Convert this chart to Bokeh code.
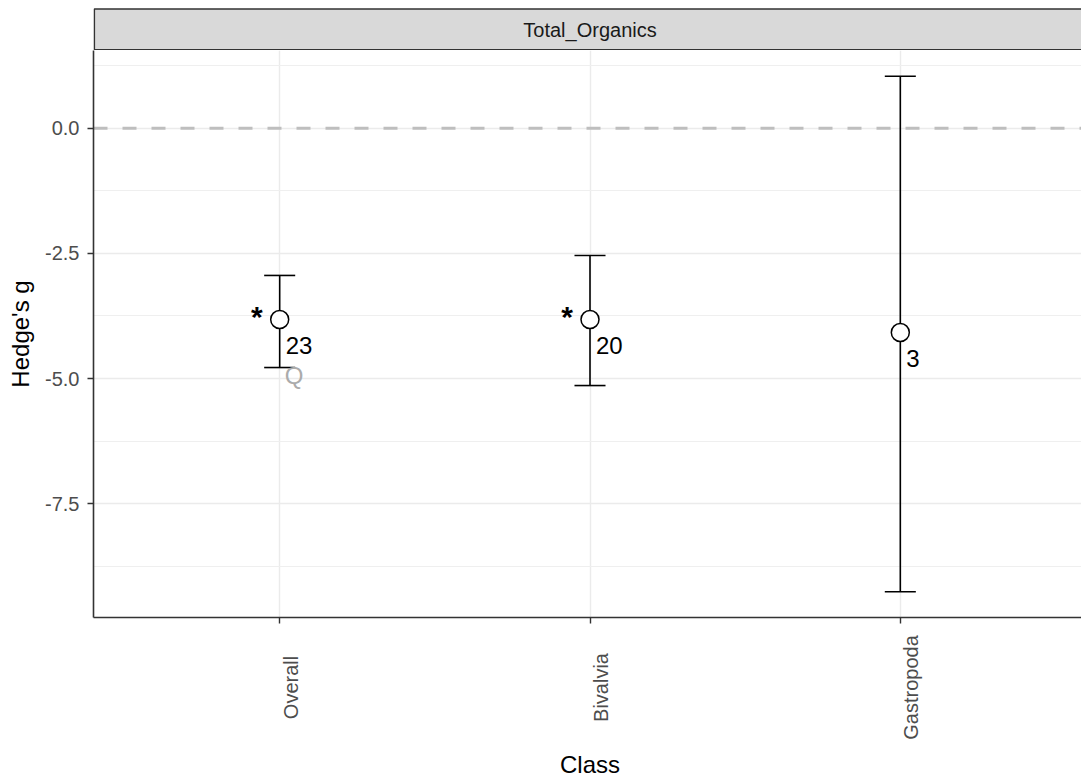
import math
import numpy as np
from bokeh.plotting import figure
from bokeh.layouts import column
from bokeh.models import Span, Range1d, FixedTicker
from bokeh.core.properties import value
from bokeh.embed import file_html
from bokeh.resources import INLINE

# ---- data -------------------------------------------------------------
facet_label = "Total_Organics"
classes = ["Overall", "Bivalvia", "Gastropoda"]
hedges_g = [-3.82, -3.82, -4.08]
ci_lower = [-4.78, -5.14, -9.26]
ci_upper = [-2.94, -2.54, 1.04]
n_studies = ["23", "20", "3"]
signif = ["*", "*", ""]
q_flag = ["Q", "", ""]
ref_line = 0.0
y_ticks = [0.0, -2.5, -5.0, -7.5]
y_tick_labels = ["0.0", "-2.5", "-5.0", "-7.5"]
y_minor = [1.25, -1.25, -3.75, -6.25, -8.75]

# ---- layout -------------------------------------------------------------
W = 1081
LEFT = 93
STRIP_FIG_H = 50          # strip row
MAIN_FRAME_H = 567        # data panel
AXIS_PAD = 12             # room for the x ticks
BOTTOM_FIG_H = 781 - STRIP_FIG_H - MAIN_FRAME_H - AXIS_PAD
FONT = "Liberation Sans"
SMALL = "20px"
LARGE = "24px"

x = np.arange(1, len(classes) + 1, dtype=float)
lo_d, hi_d = min(ci_lower), max(ci_upper)
pad = 0.05 * (hi_d - lo_d)
y_lo, y_hi = lo_d - pad, hi_d + pad

x_start = 0.4
ppu_x = (1086 - LEFT) / 3.2
x_range = Range1d(x_start, x_start + (W - LEFT) / ppu_x)

common = dict(width=W, output_backend="svg", toolbar_location=None,
              x_range=x_range, min_border_left=LEFT, min_border_right=0)

# ---- facet strip ---------------------------------------------------------
strip = figure(height=STRIP_FIG_H, y_range=Range1d(STRIP_FIG_H, 0),
               x_axis_type=None, y_axis_type=None,
               min_border_top=0, min_border_bottom=0, **common)
strip.outline_line_color = None
strip.grid.visible = False
strip.quad(left=[x_start + 0.8 / ppu_x], right=[x_range.end + 1],
           top=[8.5], bottom=[49.3],
           fill_color="#D9D9D9", line_color="#333333", line_width=1.6)
strip.text(x=[2.0], y=[29.5], text=[facet_label], text_font=value(FONT),
           text_font_size=SMALL, text_color="#1A1A1A",
           text_align="center", text_baseline="middle")

# ---- main panel ------------------------------------------------------------
p = figure(height=MAIN_FRAME_H + AXIS_PAD, y_range=Range1d(y_lo, y_hi),
           min_border_top=0, min_border_bottom=AXIS_PAD, **common)
p.outline_line_color = None

p.xgrid.grid_line_color = "#EBEBEB"
p.xgrid.grid_line_width = 1.4
p.ygrid.grid_line_color = "#EBEBEB"
p.ygrid.grid_line_width = 1.4
p.ygrid.minor_grid_line_color = "#EFEFEF"
p.ygrid.minor_grid_line_width = 1.1

for ax in (p.xaxis[0], p.yaxis[0]):
    ax.axis_line_color = "#333333"
    ax.axis_line_width = 1.6
    ax.major_tick_line_color = "#333333"
    ax.major_tick_line_width = 1.4
    ax.major_tick_out = 6
    ax.major_tick_in = 0
    ax.minor_tick_line_color = None
    ax.major_label_text_font = FONT
    ax.major_label_text_font_size = SMALL
    ax.major_label_text_color = "#4D4D4D"

p.yaxis.ticker = FixedTicker(ticks=y_ticks, minor_ticks=y_minor)
p.yaxis.major_label_overrides = dict(zip(y_ticks, y_tick_labels))
p.yaxis.major_label_standoff = 8
p.yaxis.axis_label = "Hedge's g"
p.yaxis.axis_label_text_font = FONT
p.yaxis.axis_label_text_font_size = LARGE
p.yaxis.axis_label_text_font_style = "normal"
p.yaxis.axis_label_text_color = "black"
p.yaxis.axis_label_standoff = 8

p.xaxis.ticker = FixedTicker(ticks=list(x))
p.xaxis.major_label_overrides = {float(v): "" for v in x}
p.xaxis.major_label_text_font_size = "0px"
p.xaxis.major_label_standoff = 0

# reference line at zero
p.add_layout(Span(location=ref_line, dimension="width", line_color="#BEBEBE",
                  line_width=3, line_dash="14 15", level="underlay"))

# error bars
cap = 0.05
p.segment(x0=x, y0=ci_lower, x1=x, y1=ci_upper, line_color="black", line_width=1.6)
p.segment(x0=x - cap, y0=ci_upper, x1=x + cap, y1=ci_upper, line_color="black", line_width=1.6)
p.segment(x0=x - cap, y0=ci_lower, x1=x + cap, y1=ci_lower, line_color="black", line_width=1.6)

# point estimates
p.scatter(x=x, y=hedges_g, marker="circle", size=18, fill_color="white",
          line_color="black", line_width=1.5)

# annotations next to each estimate
p.text(x=x, y=hedges_g, text=n_studies, x_offset=6, y_offset=26,
       text_font=value(FONT), text_font_size=LARGE, text_color="black",
       text_align="left", text_baseline="alphabetic")
p.text(x=x, y=hedges_g, text=signif, x_offset=-17, y_offset=-3,
       text_font=value(FONT), text_font_size="30px", text_font_style="bold",
       text_color="black", text_align="right", text_baseline="alphabetic")
p.text(x=x, y=hedges_g, text=q_flag, x_offset=5, y_offset=56,
       text_font=value(FONT), text_font_size=LARGE, text_color="#ABABAB",
       text_align="left", text_baseline="alphabetic")

# ---- category labels and x title ------------------------------------------
bottom = figure(height=BOTTOM_FIG_H, y_range=Range1d(BOTTOM_FIG_H, 0),
                x_axis_type=None, y_axis_type=None,
                min_border_top=0, min_border_bottom=0, **common)
bottom.outline_line_color = None
bottom.grid.visible = False
bottom.text(x=x, y=[58] * len(x), text=classes, angle=math.pi / 2,
            text_font=value(FONT), text_font_size=SMALL, text_color="#4D4D4D",
            text_align="center", text_baseline="top")
bottom.text(x=[2.0], y=[134.5], text=["Class"], text_font=value(FONT),
            text_font_size=LARGE, text_color="black",
            text_align="center", text_baseline="middle")

layout = column(strip, p, bottom, spacing=0)
open("out.html", "w").write(file_html(layout, INLINE))
